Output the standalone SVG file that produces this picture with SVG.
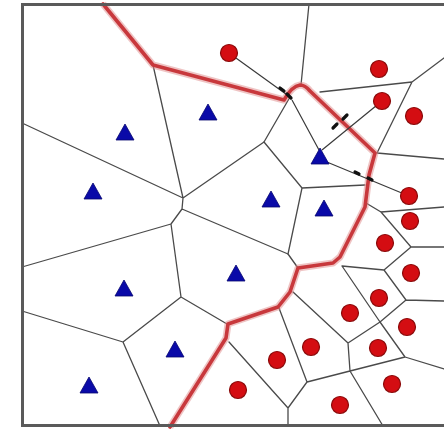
<svg xmlns="http://www.w3.org/2000/svg" width="444" height="429" viewBox="0 0 444 429">
<style>
.e{stroke:#4a4a4a;stroke-width:1.3;fill:none;stroke-linecap:round}
.halo{stroke:#e08a8a;stroke-width:7;fill:none;stroke-linejoin:round;opacity:0.5}
.rb{stroke:#c8383c;stroke-width:3.6;fill:none;stroke-linejoin:round;stroke-linecap:round}
.dot{fill:#d40d12;stroke:#8a0a0a;stroke-width:1.2}
.tri{fill:#0a0aa8;stroke:#060670;stroke-width:0.8}
.ar{stroke:#3a3a3a;stroke-width:1.2;fill:none}
.mk{stroke:#111;stroke-width:3.2;fill:none;stroke-linecap:round}
.frame{stroke:#5a5a5a;stroke-width:3;fill:none}
</style>
<defs>
<path id="t" d="M0,-9 L9,7 L-9,7 Z"/>
</defs>
<rect width="444" height="429" fill="#ffffff"/>
<g id="edges">
<path class="e" d="M153,65 L183,198 M22,123 L183,198 M183,198 L264,142 M183,198 L182,209 M182,209 L288,254 M182,209 L171,224 M22,267 L171,224 M171,224 L181,297 M181,297 L123,342 M22,311 L123,342 M123,342 L160,426 M181,297 L227,324"/>
<path class="e" d="M264,142 L290,97 M264,142 L302,188 M302,188 L365,185 M302,188 L288,254 M288,254 L298,268 M309,4 L301,85 M320,92 L412,82 M412,82 L444,58 M412,82 L377,153 M377,153 L444,159"/>
<path class="e" d="M366,203 L381,212 M381,212 L444,207 M381,212 L411,247 M411,247 L444,247 M411,247 L384,270 M384,270 L342,266 M384,270 L406,300 M406,300 L444,301 M342,266 L380,322 M406,300 L380,322 M380,322 L348,343 M380,322 L405,357 M405,357 L444,369 M405,357 L350,371 M348,343 L350,371 M348,343 L293,292 M350,371 L383,426 M350,371 L307,382 M307,382 L279,308 M307,382 L288,408 M288,408 L288,426 M288,408 L229,342"/>
</g>
<g id="boundary">
<path class="halo" d="M103,4 L153,65 L284,100 Q292,86 300,85 Q305,85 310,91 L375,153 L369,175 L365,207 L340,257 L333,263 L298,268 L290,292 L278,307 L228,324 L226,338 L170,427"/>
<path class="rb" d="M103,4 L153,65 L284,100 Q292,86 300,85 Q305,85 310,91 L375,153 L369,175 L365,207 L340,257 L333,263 L298,268 L290,292 L278,307 L228,324 L226,338 L170,427"/>
</g>
<g id="arrows">
<path class="ar" d="M229,53 L290,97 M292,100 L319,150 M322,150 L382,101 M322,160 L409,196"/>
<path class="mk" d="M280,88 L284,91 M287,94 L291,98 M333,128 L337,124 M343,119 L347,115 M355,172 L359,174 M368,178 L372,180"/>
</g>
<g id="class-a">
<use href="#t" class="tri" x="125" y="133"/>
<use href="#t" class="tri" x="208" y="113"/>
<use href="#t" class="tri" x="93" y="192"/>
<use href="#t" class="tri" x="271" y="200"/>
<use href="#t" class="tri" x="324" y="209"/>
<use href="#t" class="tri" x="320" y="157"/>
<use href="#t" class="tri" x="236" y="274"/>
<use href="#t" class="tri" x="124" y="289"/>
<use href="#t" class="tri" x="175" y="350"/>
<use href="#t" class="tri" x="89" y="386"/>
</g>
<g id="class-b">
<circle class="dot" cx="229" cy="53" r="8.5"/>
<circle class="dot" cx="379" cy="69" r="8.5"/>
<circle class="dot" cx="382" cy="101" r="8.5"/>
<circle class="dot" cx="414" cy="116" r="8.5"/>
<circle class="dot" cx="409" cy="196" r="8.5"/>
<circle class="dot" cx="410" cy="221" r="8.5"/>
<circle class="dot" cx="385" cy="243" r="8.5"/>
<circle class="dot" cx="411" cy="273" r="8.5"/>
<circle class="dot" cx="379" cy="298" r="8.5"/>
<circle class="dot" cx="350" cy="313" r="8.5"/>
<circle class="dot" cx="407" cy="327" r="8.5"/>
<circle class="dot" cx="311" cy="347" r="8.5"/>
<circle class="dot" cx="378" cy="348" r="8.5"/>
<circle class="dot" cx="277" cy="360" r="8.5"/>
<circle class="dot" cx="392" cy="384" r="8.5"/>
<circle class="dot" cx="238" cy="390" r="8.5"/>
<circle class="dot" cx="340" cy="405" r="8.5"/>
</g>
<g id="frame">
<path class="frame" d="M444,4.5 L22.5,4.5 L22.5,425.5 L444,425.5"/>
</g>
</svg>
